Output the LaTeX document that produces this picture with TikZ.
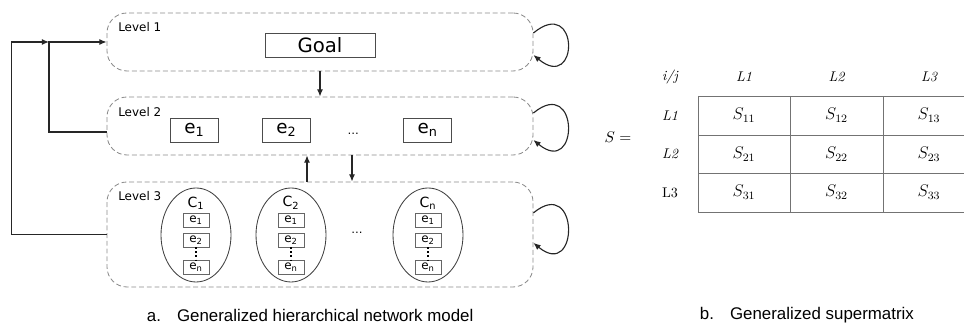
\documentclass[tikz,border=0pt]{standalone}
\usepackage{fontspec}
\usepackage{tikz}
\usetikzlibrary{arrows.meta,positioning,calc,shapes.geometric}

\newfontfamily\boxfont{DejaVu Sans}
\newfontfamily\capfont{Liberation Sans}

\begin{document}
\begin{tikzpicture}[
    >=Latex,
    level/.style={draw=black!45,dash pattern=on 3.5pt off 2pt,line width=0.6pt,
      rounded corners=0.5cm,minimum width=10.65cm,minimum height=1.45cm},
    levellabel/.style={anchor=west,inner sep=0pt,
      font=\boxfont\fontsize{8.5}{10}\selectfont},
    elem/.style={draw=black!70,line width=0.6pt,minimum width=1.2cm,
      minimum height=0.6cm,inner sep=0pt,
      font=\boxfont\fontsize{13}{15}\selectfont},
    cluster/.style={ellipse,draw=black!75,line width=0.6pt,inner sep=0pt,
      minimum width=1.75cm,minimum height=2.35cm},
    subelem/.style={draw=black!60,line width=0.5pt,minimum width=0.65cm,
      minimum height=0.35cm,inner sep=0pt,
      font=\boxfont\fontsize{8.5}{9}\selectfont},
    flow/.style={-{Latex[length=1.8mm,width=1.5mm]},line width=0.8pt,black!85},
    entry/.style={font=\fontsize{12}{14}\selectfont},
    head/.style={font=\fontsize{10}{12}\selectfont\itshape},
    grid/.style={draw=black!55,line width=0.6pt},
    caption/.style={anchor=west,font=\capfont\fontsize{12}{14}\selectfont}
  ]
    \useasboundingbox (0,0) rectangle (24.1,8.325);

    % the three levels of the network
    \node[level] (lev1) at (8.0,7.275) {};
    \node[level] (lev2) at (8.0,5.175) {};
    \node[level,minimum height=2.625cm] (lev3) at (8.0,2.4625) {};
    \node[levellabel] at (2.95,7.65) {Level 1};
    \node[levellabel] at (2.95,5.525) {Level 2};
    \node[levellabel] at (2.95,3.425) {Level 3};

    \node[elem,minimum width=2.75cm,font=\boxfont\fontsize{14}{16}\selectfont]
      (goal) at (8.0,7.2) {Goal};

    \node[elem] (e1) at (4.86,5.075) {e\textsubscript{1}};
    \node[elem] (e2) at (7.16,5.075) {e\textsubscript{2}};
    \node[elem] (en) at (10.69,5.075) {e\textsubscript{n}};
    \node[font=\boxfont\fontsize{8}{9}\selectfont] (dots2) at (8.83,4.98) {\dots};

    % clusters C_1, C_2, C_n, each holding e_1 ... e_n
    \foreach \k/\x in {1/4.9,2/7.275,n/10.7}{
      \node[cluster] (c\k) at (\x,2.45) {};
      \node[font=\boxfont\fontsize{10}{11}\selectfont,inner sep=0pt]
        (c\k-lab) at (\x,3.25) {C\textsubscript{\k}};
      \node[subelem] (c\k-e1) at (\x,2.825) {e\textsubscript{1}};
      \node[subelem] (c\k-e2) at (\x,2.325) {e\textsubscript{2}};
      \node[subelem] (c\k-en) at (\x,1.65) {e\textsubscript{n}};
      \draw[dotted,line width=0.9pt] (c\k-e2) -- (c\k-en);
    }
    \node[font=\boxfont\fontsize{8}{9}\selectfont] (dots3) at (8.925,2.5) {\dots};

    % links between levels
    \draw[flow] (lev1.south) -- (lev2.north);
    \draw[flow] ([xshift=-0.325cm]lev3.north) -- ([xshift=-0.325cm]lev2.south);
    \draw[flow] ([xshift=0.8cm]lev2.south) -- ([xshift=0.8cm]lev3.north);

    % feedback from the lower levels to level 1
    \coordinate (merge) at (1.225,7.275);
    \draw[flow] (lev3.west) -- ++(-2.375,0) |- (merge);
    \draw[flow] ([yshift=-0.15cm]lev2.west) -| (merge) -- (lev1.west);

    % inner dependence loops
    \draw[flow] ([yshift=0.225cm]lev1.east) .. controls +(1.15,0.95)
      and +(1.15,-0.95) .. ([yshift=-0.325cm]lev1.east);
    \draw[flow] ([yshift=0.325cm]lev2.east) .. controls +(1.15,0.95)
      and +(1.15,-0.95) .. ([yshift=-0.35cm]lev2.east);
    \draw[flow] ([yshift=0.54cm]lev3.east) .. controls +(1.15,0.95)
      and +(1.15,-0.95) .. ([yshift=-0.21cm]lev3.east);

    % supermatrix
    \node[font=\fontsize{11}{13}\selectfont] (seq) at (15.45,4.9) {$S=$};
    \node[head] (hij) at (16.75,6.4) {i/j};
    \foreach \c/\x in {1/18.6,2/20.9125,3/23.225}
      \node[head] (col\c) at (\x,6.4) {L\c};
    \node[head] (row1) at (16.75,5.4375) {L1};
    \node[head] (row2) at (16.75,4.475) {L2};
    \node[head,font=\fontsize{10}{12}\selectfont] (row3) at (16.75,3.5125) {L3};
    \foreach \y in {5.925,4.95,4.0,3.025}
      \draw[grid] (17.45,\y) -- (24.1,\y);
    \foreach \x in {17.45,19.75,22.075}
      \draw[grid] (\x,5.925) -- (\x,3.025);
    \foreach \r/\y in {1/5.4375,2/4.475,3/3.5125}
      \foreach \c/\x in {1/18.6,2/20.9125,3/23.225}
        \node[entry] (s\r\c) at (\x,\y) {$S_{\r\c}$};

    \node[caption] (capa) at (3.55,0.45)
      {a.\hspace{0.95em}Generalized hierarchical network model};
    \node[caption] (capb) at (17.375,0.45)
      {b.\hspace{0.95em}Generalized supermatrix};
\end{tikzpicture}
\end{document}
